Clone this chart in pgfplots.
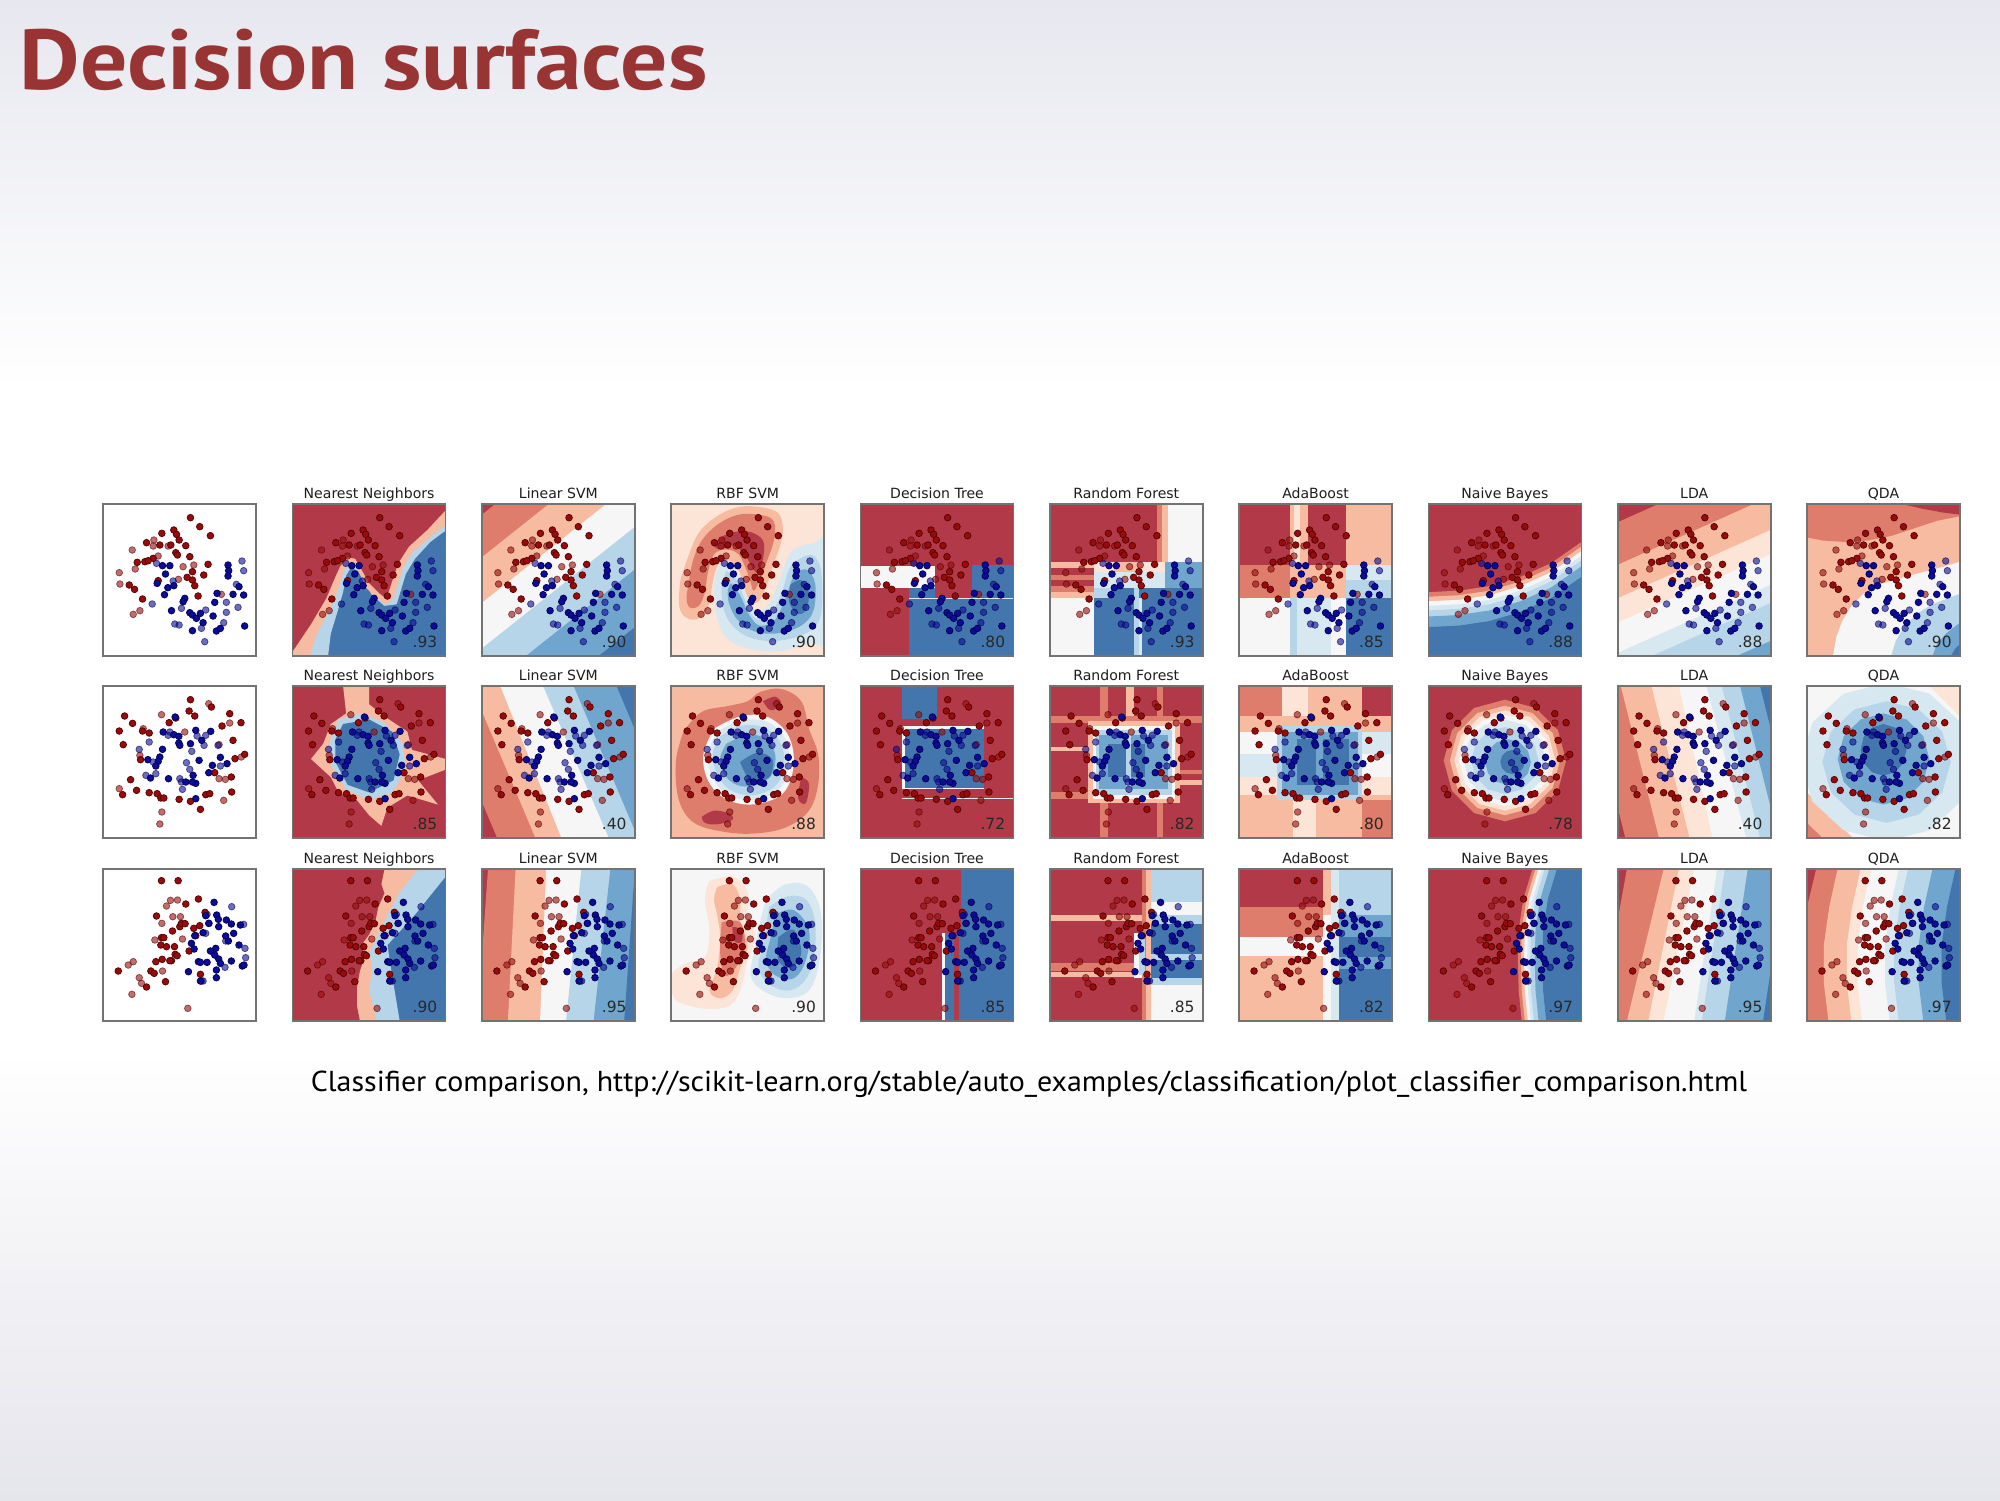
\documentclass[border=0pt]{standalone}
\usepackage{fontspec}
\setmainfont{PT Sans}
\newfontfamily\titlefont{PT Sans}[FakeStretch=1.1]
\newfontfamily\capfont{PT Sans}[FakeStretch=1.04]
\newfontfamily\dejavu{DejaVu Sans}
\usepackage{pgfplots}
\pgfplotsset{compat=1.18}
\usepackage{pgfplotstable}

\definecolor{cR3}{RGB}{178,58,72}
\definecolor{cR2}{RGB}{222,125,108}
\definecolor{cR1}{RGB}{246,187,160}
\definecolor{cR0}{RGB}{252,228,215}
\definecolor{cW}{RGB}{246,246,246}
\definecolor{cB0}{RGB}{216,232,241}
\definecolor{cB1}{RGB}{182,213,232}
\definecolor{cB2}{RGB}{112,166,206}
\definecolor{cB3}{RGB}{66,118,172}
\definecolor{ptR}{RGB}{150,12,12}
\definecolor{ptRe}{RGB}{85,0,0}
\definecolor{ptB}{RGB}{12,12,150}
\definecolor{ptBe}{RGB}{0,0,85}
\definecolor{framegray}{RGB}{115,115,115}
\definecolor{ttlgray}{RGB}{30,30,30}
\definecolor{scgray}{RGB}{40,40,40}
\definecolor{titlered}{RGB}{152,52,52}
\definecolor{bgtop}{RGB}{231,232,239}
\definecolor{bgbot}{RGB}{229,229,236}

\pgfdeclareverticalshading{slidebg}{100bp}{color(0bp)=(bgbot); color(25bp)=(bgbot); color(40bp)=(white); color(62bp)=(white); color(75bp)=(bgtop); color(100bp)=(bgtop)}

% ---------- point data (pixel positions inside a 460 x 456 panel) ----------
\pgfplotstableread{
x y
272 53
300 80
332 107
186 100
222 90
230 103
238 120
140 128
180 135
213 135
258 137
228 158
233 165
160 175
270 170
112 187
135 185
145 182
325 193
278 215
312 225
88 255
104 268
175 242
262 232
278 240
285 257
295 288
128 297
}\moonRD
\pgfplotstableread{
x y
162 120
160 138
205 138
97 150
175 168
106 207
282 195
250 200
58 218
60 252
236 238
120 332
100 343
365 283
}\moonRL
\pgfplotstableread{
x y
188 197
210 197
197 222
172 250
222 257
204 263
194 284
255 295
250 305
215 332
270 338
278 345
290 355
310 368
340 348
352 280
345 307
385 195
387 212
385 228
400 283
418 260
432 285
278 392
302 340
350 393
362 385
435 378
}\moonBD
\pgfplotstableread{
x y
170 190
220 243
157 312
245 325
225 372
238 375
318 330
305 385
315 425
380 337
372 368
415 322
427 183
432 212
410 253
380 307
}\moonBL
\pgfplotstableread{
x y
272 53
335 75
268 87
285 102
74 102
98 124
208 122
228 108
390 95
424 122
367 132
58 147
128 147
148 153
400 175
70 188
122 233
406 230
435 217
92 293
110 325
68 338
148 332
172 335
183 348
192 348
238 352
272 358
302 382
318 338
330 335
345 272
395 285
396 330
}\circRD
\pgfplotstableread{
x y
327 65
185 98
130 140
255 150
390 123
358 188
120 220
425 225
58 320
358 290
377 292
372 355
186 390
180 426
}\circRL
\pgfplotstableread{
x y
190 150
222 158
237 163
237 183
240 190
288 145
272 185
306 175
333 148
188 202
180 225
175 238
144 233
168 252
152 288
206 290
298 235
362 226
338 250
382 245
327 272
288 304
278 300
258 300
280 280
288 350
226 105
}\circBD
\pgfplotstableread{
x y
210 150
205 160
148 180
118 202
160 240
168 275
138 280
260 242
270 262
276 208
292 162
318 160
313 190
362 252
240 290
245 300
248 322
355 190
}\circBL
\pgfplotstableread{
x y
185 47
235 47
296 102
258 117
170 153
218 198
240 185
245 175
256 176
282 190
300 182
288 212
185 218
192 218
183 240
200 245
224 245
226 268
232 272
215 287
210 287
168 290
187 283
153 318
163 325
55 318
140 366
197 350
268 258
316 142
302 328
}\linRD
\pgfplotstableread{
x y
212 106
233 105
200 123
219 155
242 155
186 175
165 225
248 222
100 290
85 300
188 318
118 338
125 355
96 388
264 430
}\linRL
\pgfplotstableread{
x y
343 112
351 150
380 165
395 177
357 185
356 163
422 180
402 205
378 213
386 228
327 175
318 152
285 212
310 203
275 235
283 252
348 250
332 258
345 270
357 282
362 295
350 315
350 338
296 290
302 292
322 292
395 288
428 303
433 300
418 240
266 320
302 348
}\linBD
\pgfplotstableread{
x y
396 125
322 148
432 178
328 175
318 205
436 250
438 278
376 307
305 348
310 348
378 228
}\linBL

% ---------- helpers ----------
\newcommand\rect[5]{\addplot[fill=#1,draw=none] coordinates {(#2,#4) (#3,#4) (#3,#5) (#2,#5)} -- cycle;}
\newcommand\region[2]{\addplot[fill=#1,draw=none] coordinates {#2} -- cycle;}
\newcommand\sregion[2]{\addplot[fill=#1,draw=none,smooth,tension=0.6] coordinates {#2} -- cycle;}
\newcommand\dband[3]{\addplot[fill=#1,draw=none] coordinates {(0,#2) (1,#3) (1,3) (0,3)} -- cycle;}
\newcommand\rband[3]{\addplot[fill=#1,draw=none] coordinates {(#2,0) (#3,1) (3,1) (3,0)} -- cycle;}
\newcommand\cb[7]{\addplot[fill=#1,draw=none] coordinates {(0,#2) (0.2,#3) (0.4,#4) (0.6,#5) (0.8,#6) (1,#7) (1,3) (0,3)} -- cycle;}
\newcommand\vc[7]{\addplot[fill=#1,draw=none] coordinates {(#2,0) (#3,0.2) (#4,0.4) (#5,0.6) (#6,0.8) (#7,1) (3,1) (3,0)} -- cycle;}
\newcommand\vq[6]{\addplot[fill=#1,draw=none] coordinates {(#2,0) (#3,0.25) (#4,0.5) (#5,0.75) (#6,1) (3,1) (3,0)} -- cycle;}
\pgfplotsset{ptstyle/.style={only marks, mark=*, mark size=0.95pt}}
\newcommand\pts[4]{%
\addplot[ptstyle, mark options={fill=ptR, draw=ptRe, line width=0.2pt, opacity=0.6}] table[x expr=(\thisrow{x}-10)/460, y expr=(\thisrow{y}-12)/456] {#2};
\addplot[ptstyle, mark options={fill=ptB, draw=ptBe, line width=0.2pt, opacity=0.6}] table[x expr=(\thisrow{x}-10)/460, y expr=(\thisrow{y}-12)/456] {#4};
\addplot[ptstyle, mark options={fill=ptR, draw=ptRe, line width=0.2pt}] table[x expr=(\thisrow{x}-10)/460, y expr=(\thisrow{y}-12)/456] {#1};
\addplot[ptstyle, mark options={fill=ptB, draw=ptBe, line width=0.2pt}] table[x expr=(\thisrow{x}-10)/460, y expr=(\thisrow{y}-12)/456] {#3};
}
\newcommand\moons{\pts\moonRD\moonRL\moonBD\moonBL}
\newcommand\circs{\pts\circRD\circRL\circBD\circBL}
\newcommand\lins{\pts\linRD\linRL\linBD\linBL}
\newcommand\score[1]{\node[anchor=base east, inner sep=0pt, font=\dejavu\fontsize{4.4}{5}\selectfont, text=scgray] at (axis description cs:0.95,0.055) {#1};}

\pgfplotsset{panel/.style={anchor=north west, width=15.3mm, height=15.2mm, scale only axis,
  xmin=0, xmax=1, ymin=0, ymax=1, y dir=reverse, xtick=\empty, ytick=\empty, axis on top,
  axis line style={draw=framegray, line width=0.5pt},
  title style={font=\dejavu\fontsize{4}{5}\selectfont, text=ttlgray, at={(0.5,1)}, anchor=base, yshift=-1.57mm, inner sep=0pt}}}

\begin{document}
\begin{tikzpicture}
\fill[shading=slidebg] (0,0) rectangle (200mm,-150mm);
\node[anchor=base west, inner sep=0pt, font=\titlefont\fontsize{24.2}{29}\selectfont\bfseries, text=titlered] at (1.9mm,-8.9mm) {Decision surfaces};

%================ ROW 1 (moons) ================
\begin{axis}[panel,at={(10.33mm,-50.4mm)}]
\rect{white}{0}{1}{0}{1}
\moons
\end{axis}

\begin{axis}[panel,at={(29.26mm,-50.4mm)},title={Nearest Neighbors}]
\rect{cB3}{0}{1}{0}{1}
\region{cB1}{(-0.1,-0.1) (1.1,-0.1) (1.1,0.1) (0.9,0.25) (0.8,0.36) (0.74,0.46) (0.68,0.66) (0.6,0.67) (0.52,0.6) (0.47,0.52) (0.43,0.44) (0.38,0.42) (0.35,0.47) (0.33,0.58) (0.29,0.72) (0.25,0.85) (0.22,1.1) (-0.1,1.1)}
\region{cR1}{(-0.1,-0.1) (1.1,-0.1) (1.1,0.06) (0.92,0.2) (0.78,0.32) (0.72,0.42) (0.66,0.62) (0.61,0.66) (0.55,0.62) (0.48,0.55) (0.44,0.46) (0.4,0.39) (0.36,0.39) (0.33,0.45) (0.3,0.55) (0.25,0.68) (0.16,0.85) (0.08,1.1) (-0.1,1.1)}
\region{cR3}{(-0.1,-0.1) (1.1,-0.1) (1.1,0.02) (1,0.04) (0.88,0.17) (0.76,0.28) (0.69,0.39) (0.63,0.57) (0.61,0.62) (0.57,0.59) (0.5,0.52) (0.45,0.43) (0.41,0.36) (0.36,0.35) (0.31,0.41) (0.27,0.5) (0.22,0.62) (0.12,0.79) (0,0.97) (-0.02,1.1) (-0.1,1.1)}
\moons
\score{.93}
\end{axis}

\begin{axis}[panel,at={(48.19mm,-50.4mm)},title={Linear SVM}]
\rect{cR3}{0}{1}{0}{1}
\dband{cR2}{0.07}{-0.73}
\dband{cR1}{0.35}{-0.45}
\dband{cW}{0.65}{-0.15}
\dband{cB1}{0.95}{0.15}
\dband{cB2}{1.23}{0.43}
\dband{cB3}{1.61}{0.81}
\moons
\score{.90}
\end{axis}

\begin{axis}[panel,at={(67.12mm,-50.4mm)},title={RBF SVM}]
\rect{cR0}{0}{1}{0}{1}
\sregion{cR1}{(0.06,0.5) (0.11,0.35) (0.18,0.19) (0.3,0.08) (0.44,0.02) (0.58,0.02) (0.7,0.06) (0.73,0.17) (0.71,0.28) (0.67,0.39) (0.63,0.52) (0.58,0.63) (0.53,0.65) (0.49,0.59) (0.46,0.48) (0.41,0.39) (0.34,0.37) (0.3,0.41) (0.27,0.52) (0.25,0.65) (0.2,0.74) (0.13,0.76) (0.07,0.72) (0.05,0.64) (0.06,0.5)}
\sregion{cR2}{(0.11,0.55) (0.14,0.38) (0.2,0.24) (0.31,0.13) (0.44,0.07) (0.57,0.07) (0.66,0.1) (0.68,0.18) (0.66,0.28) (0.62,0.39) (0.58,0.5) (0.54,0.57) (0.52,0.52) (0.49,0.43) (0.44,0.33) (0.36,0.3) (0.28,0.33) (0.24,0.45) (0.22,0.58) (0.18,0.67) (0.12,0.68) (0.1,0.62) (0.11,0.55)}
\sregion{cR3}{(0.27,0.27) (0.36,0.2) (0.5,0.18) (0.6,0.24) (0.6,0.36) (0.57,0.45) (0.53,0.42) (0.48,0.33) (0.4,0.27) (0.32,0.3) (0.27,0.27)}
\sregion{cB0}{(0.33,0.38) (0.4,0.4) (0.45,0.5) (0.5,0.62) (0.55,0.7) (0.63,0.67) (0.7,0.52) (0.74,0.4) (0.8,0.3) (0.92,0.26) (1.05,0.26) (1.05,0.88) (0.9,0.92) (0.7,0.97) (0.5,0.95) (0.36,0.88) (0.3,0.75) (0.28,0.6) (0.29,0.47) (0.33,0.38)}
\sregion{cB1}{(0.36,0.44) (0.42,0.49) (0.47,0.6) (0.52,0.72) (0.58,0.76) (0.66,0.71) (0.73,0.56) (0.77,0.43) (0.84,0.36) (0.93,0.34) (0.98,0.45) (0.98,0.72) (0.9,0.84) (0.7,0.9) (0.52,0.88) (0.4,0.8) (0.34,0.68) (0.33,0.54) (0.36,0.44)}
\sregion{cB2}{(0.39,0.52) (0.45,0.6) (0.51,0.73) (0.58,0.8) (0.68,0.76) (0.75,0.61) (0.8,0.48) (0.88,0.43) (0.94,0.52) (0.93,0.7) (0.85,0.8) (0.7,0.85) (0.55,0.84) (0.44,0.77) (0.38,0.66) (0.37,0.57) (0.39,0.52)}
\sregion{cB3}{(0.78,0.53) (0.85,0.5) (0.9,0.58) (0.88,0.7) (0.82,0.72) (0.77,0.64) (0.78,0.53)}
\moons
\score{.90}
\end{axis}

\begin{axis}[panel,at={(86.05mm,-50.4mm)},title={Decision Tree}]
\rect{cR3}{0}{1}{0}{1}
\rect{cB3}{0.32}{1}{0.62}{1}
\rect{cB3}{0.73}{1}{0.4}{0.62}
\rect{cW}{0}{0.49}{0.41}{0.55}
\rect{cB3}{0.32}{0.49}{0.55}{0.62}
\rect{cB0}{0.32}{1}{0.615}{0.625}
\moons
\score{.80}
\end{axis}

\begin{axis}[panel,at={(104.98mm,-50.4mm)},title={Random Forest}]
\rect{cW}{0}{1}{0}{1}
\rect{cR3}{0}{0.7}{0}{0.38}
\rect{cR2}{0.7}{0.73}{0}{0.38}
\rect{cR1}{0.73}{0.77}{0}{0.38}
\rect{cR1}{0}{0.29}{0.38}{0.62}
\rect{cR3}{0}{0.29}{0.42}{0.47}
\rect{cR2}{0}{0.29}{0.47}{0.5}
\rect{cR3}{0}{0.29}{0.5}{0.54}
\rect{cR2}{0}{0.29}{0.54}{0.58}
\rect{cR0}{0.29}{0.75}{0.38}{0.45}
\rect{cR1}{0.42}{0.6}{0.38}{0.47}
\rect{cB0}{0.29}{0.75}{0.45}{0.55}
\rect{cB2}{0.75}{1}{0.38}{0.55}
\rect{cB3}{0.29}{1}{0.55}{1}
\rect{cB1}{0.29}{0.4}{0.55}{0.62}
\rect{cB1}{0.55}{0.58}{0.55}{1}
\rect{cB0}{0.58}{0.6}{0.62}{1}
\moons
\score{.93}
\end{axis}

\begin{axis}[panel,at={(123.91mm,-50.4mm)},title={AdaBoost}]
\rect{cW}{0}{1}{0}{1}
\rect{cR3}{0}{0.33}{0}{0.4}
\rect{cR1}{0.33}{0.36}{0}{0.4}
\rect{cR0}{0.36}{0.4}{0}{0.4}
\rect{cR1}{0.4}{0.45}{0}{0.4}
\rect{cR3}{0.45}{0.7}{0}{0.4}
\rect{cR1}{0.7}{1}{0}{0.4}
\rect{cR2}{0}{0.33}{0.4}{0.62}
\rect{cR1}{0.33}{0.7}{0.4}{0.62}
\rect{cB0}{0.7}{1}{0.4}{0.5}
\rect{cB1}{0.7}{1}{0.5}{0.62}
\rect{cW}{0}{0.33}{0.62}{1}
\rect{cB1}{0.33}{0.38}{0.62}{1}
\rect{cB0}{0.38}{0.6}{0.62}{1}
\rect{cW}{0.6}{0.7}{0.62}{1}
\rect{cB3}{0.7}{1}{0.62}{1}
\moons
\score{.85}
\end{axis}

\begin{axis}[panel,at={(142.84mm,-50.4mm)},title={Naive Bayes}]
\rect{cR3}{0}{1}{0}{1}
\cb{cR2}{0.58}{0.57}{0.54}{0.48}{0.39}{0.25}
\cb{cR1}{0.61}{0.60}{0.57}{0.51}{0.42}{0.28}
\cb{cW}{0.64}{0.63}{0.60}{0.54}{0.45}{0.31}
\cb{cB0}{0.67}{0.66}{0.63}{0.57}{0.48}{0.34}
\cb{cB1}{0.70}{0.69}{0.66}{0.60}{0.51}{0.37}
\cb{cB2}{0.74}{0.73}{0.70}{0.64}{0.55}{0.41}
\cb{cB3}{0.81}{0.80}{0.77}{0.71}{0.62}{0.48}
\moons
\score{.88}
\end{axis}

\begin{axis}[panel,at={(161.77mm,-50.4mm)},title={LDA}]
\rect{cR3}{0}{1}{0}{1}
\dband{cR2}{0.12}{-0.33}
\dband{cR1}{0.40}{-0.05}
\dband{cR0}{0.62}{0.17}
\dband{cW}{0.78}{0.33}
\dband{cB0}{0.98}{0.53}
\dband{cB1}{1.1}{0.65}
\dband{cB2}{1.35}{0.9}
\dband{cB3}{1.5}{1.05}
\moons
\score{.88}
\end{axis}

\begin{axis}[panel,at={(180.70mm,-50.4mm)},title={QDA}]
\rect{cR1}{0}{1}{0}{1}
\region{cR2}{(0,0) (1,0) (1,0.08) (0.85,0.11) (0.7,0.16) (0.55,0.21) (0.4,0.24) (0.25,0.25) (0.1,0.24) (0,0.22)}
\region{cR3}{(0.62,0) (1,0) (1,0.07) (0.88,0.055) (0.75,0.03)}
\region{cW}{(0.17,1) (0.19,0.88) (0.23,0.77) (0.29,0.67) (0.37,0.59) (0.47,0.53) (0.6,0.49) (0.75,0.45) (0.9,0.41) (1,0.38) (1,1)}
\region{cB1}{(0.55,1) (0.58,0.9) (0.64,0.8) (0.72,0.72) (0.82,0.66) (0.92,0.62) (1,0.59) (1,1)}
\region{cB2}{(0.82,1) (0.85,0.92) (0.91,0.85) (1,0.78) (1,1)}
\region{cB3}{(0.94,1) (0.97,0.95) (1,0.92) (1,1)}
\moons
\score{.90}
\end{axis}

%================ ROW 2 (circles) ================
\begin{axis}[panel,at={(10.33mm,-68.6mm)}]
\rect{white}{0}{1}{0}{1}
\circs
\end{axis}

\begin{axis}[panel,at={(29.26mm,-68.6mm)},title={Nearest Neighbors}]
\rect{cR3}{0}{1}{0}{1}
\region{cR1}{(0.33,0) (0.5,0) (0.5,0.12) (0.6,0.2) (0.75,0.3) (0.78,0.42) (1,0.48) (1,0.55) (0.82,0.62) (0.95,0.78) (0.75,0.72) (0.62,0.8) (0.58,0.92) (0.5,0.85) (0.42,0.75) (0.3,0.7) (0.25,0.6) (0.12,0.48) (0.2,0.38) (0.25,0.25) (0.35,0.18)}
\region{cB1}{(0.3,0.22) (0.45,0.18) (0.6,0.24) (0.72,0.38) (0.74,0.55) (0.65,0.7) (0.5,0.75) (0.35,0.68) (0.25,0.52) (0.24,0.38)}
\region{cB3}{(0.33,0.25) (0.5,0.22) (0.65,0.3) (0.7,0.45) (0.66,0.62) (0.5,0.7) (0.36,0.65) (0.28,0.5) (0.28,0.35)}
\circs
\score{.85}
\end{axis}

\begin{axis}[panel,at={(48.19mm,-68.6mm)},title={Linear SVM}]
\rect{cR3}{0}{1}{0}{1}
\rband{cR2}{-0.32}{0.1}
\rband{cR1}{-0.07}{0.35}
\rband{cW}{0.12}{0.52}
\rband{cB1}{0.4}{0.83}
\rband{cB2}{0.6}{1.02}
\rband{cB3}{0.88}{1.3}
\circs
\score{.40}
\end{axis}

\begin{axis}[panel,at={(67.12mm,-68.6mm)},title={RBF SVM}]
\rect{cR1}{0}{1}{0}{1}
\sregion{cR2}{(0.08,0.3) (0.2,0.17) (0.38,0.13) (0.5,0.1) (0.58,0.04) (0.72,0.02) (0.85,0.1) (0.9,0.28) (0.96,0.45) (0.96,0.65) (0.9,0.82) (0.75,0.93) (0.55,0.97) (0.35,0.96) (0.15,0.9) (0.05,0.75) (0.03,0.5) (0.08,0.3)}
\sregion{cR3}{(0.2,0.86) (0.28,0.82) (0.38,0.84) (0.4,0.88) (0.3,0.91) (0.22,0.9) (0.2,0.86)}
\sregion{cR3}{(0.85,0.6) (0.9,0.64) (0.88,0.77) (0.83,0.74) (0.85,0.6)}
\sregion{cR3}{(0.6,0.1) (0.68,0.07) (0.72,0.12) (0.65,0.16) (0.6,0.1)}
\sregion{cW}{(0.28,0.28) (0.45,0.2) (0.62,0.2) (0.75,0.3) (0.8,0.45) (0.78,0.62) (0.7,0.73) (0.52,0.78) (0.35,0.74) (0.24,0.62) (0.21,0.45) (0.28,0.28)}
\sregion{cB0}{(0.3,0.3) (0.45,0.23) (0.61,0.23) (0.73,0.32) (0.77,0.45) (0.75,0.6) (0.68,0.7) (0.52,0.75) (0.36,0.71) (0.27,0.6) (0.24,0.45) (0.3,0.3)}
\sregion{cB1}{(0.32,0.33) (0.46,0.26) (0.6,0.27) (0.7,0.35) (0.74,0.47) (0.72,0.6) (0.65,0.68) (0.52,0.72) (0.38,0.68) (0.3,0.58) (0.27,0.45) (0.32,0.33)}
\sregion{cB2}{(0.36,0.38) (0.5,0.32) (0.62,0.35) (0.68,0.45) (0.66,0.58) (0.58,0.64) (0.46,0.66) (0.36,0.6) (0.32,0.48) (0.36,0.38)}
\sregion{cB3}{(0.45,0.5) (0.56,0.44) (0.66,0.48) (0.64,0.6) (0.52,0.62) (0.45,0.5)}
\circs
\score{.88}
\end{axis}

\begin{axis}[panel,at={(86.05mm,-68.6mm)},title={Decision Tree}]
\rect{cR3}{0}{1}{0}{1}
\rect{cB3}{0.27}{0.5}{0}{0.22}
\rect{cW}{0.27}{0.81}{0.265}{0.675}
\rect{cB3}{0.29}{0.81}{0.28}{0.67}
\rect{cB0}{0.27}{1}{0.735}{0.745}
\circs
\score{.72}
\end{axis}

\begin{axis}[panel,at={(104.98mm,-68.6mm)},title={Random Forest}]
\rect{cR3}{0}{1}{0}{1}
\rect{cR2}{0.33}{0.38}{0}{1}
\rect{cR1}{0.5}{0.55}{0}{0.25}
\rect{cR2}{0.7}{0.74}{0}{1}
\rect{cR2}{0}{1}{0.2}{0.24}
\rect{cR1}{0}{0.3}{0.4}{0.43}
\rect{cR2}{0.8}{1}{0.55}{0.58}
\rect{cR1}{0.8}{1}{0.62}{0.65}
\rect{cR2}{0}{0.3}{0.7}{0.74}
\rect{cR1}{0.25}{0.85}{0.23}{0.77}
\rect{cW}{0.28}{0.82}{0.26}{0.74}
\rect{cB1}{0.3}{0.8}{0.29}{0.72}
\rect{cB2}{0.32}{0.77}{0.32}{0.68}
\rect{cB3}{0.38}{0.62}{0.38}{0.6}
\rect{cB1}{0.5}{0.53}{0.32}{0.68}
\circs
\score{.82}
\end{axis}

\begin{axis}[panel,at={(123.91mm,-68.6mm)},title={AdaBoost}]
\rect{cR1}{0}{1}{0}{1}
\rect{cR2}{0}{0.28}{0}{0.2}
\rect{cR0}{0.28}{0.45}{0}{0.2}
\rect{cR1}{0.45}{0.78}{0}{0.2}
\rect{cR3}{0.8}{1}{0}{0.2}
\rect{cW}{0}{0.25}{0.3}{0.45}
\rect{cB0}{0}{0.25}{0.45}{0.6}
\rect{cR0}{0}{0.25}{0.6}{0.72}
\rect{cB0}{0.8}{1}{0.3}{0.45}
\rect{cW}{0.8}{1}{0.45}{0.6}
\rect{cR0}{0.8}{1}{0.6}{0.72}
\rect{cB1}{0.25}{0.8}{0.26}{0.75}
\rect{cB2}{0.28}{0.78}{0.3}{0.72}
\rect{cB3}{0.38}{0.72}{0.35}{0.65}
\rect{cB2}{0.5}{0.55}{0.35}{0.65}
\rect{cR0}{0.35}{0.5}{0.75}{1}
\rect{cR2}{0.8}{1}{0.75}{1}
\circs
\score{.80}
\end{axis}

\begin{axis}[panel,at={(142.84mm,-68.6mm)},title={Naive Bayes}]
\rect{cR3}{0}{1}{0}{1}
\region{cR2}{(0.9,0.49) (0.846,0.69) (0.7,0.836) (0.5,0.89) (0.3,0.836) (0.154,0.69) (0.1,0.49) (0.154,0.29) (0.3,0.144) (0.5,0.09) (0.7,0.144) (0.846,0.29)}
\region{cR1}{(0.86,0.49) (0.812,0.67) (0.68,0.802) (0.5,0.85) (0.32,0.802) (0.188,0.67) (0.14,0.49) (0.188,0.31) (0.32,0.178) (0.5,0.13) (0.68,0.178) (0.812,0.31)}
\region{cR0}{(0.83,0.49) (0.786,0.655) (0.665,0.776) (0.5,0.82) (0.335,0.776) (0.214,0.655) (0.17,0.49) (0.214,0.325) (0.335,0.204) (0.5,0.16) (0.665,0.204) (0.786,0.325)}
\region{cW}{(0.8,0.49) (0.76,0.64) (0.65,0.75) (0.5,0.79) (0.35,0.75) (0.24,0.64) (0.2,0.49) (0.24,0.34) (0.35,0.23) (0.5,0.19) (0.65,0.23) (0.76,0.34)}
\region{cB0}{(0.77,0.49) (0.734,0.625) (0.635,0.724) (0.5,0.76) (0.365,0.724) (0.266,0.625) (0.23,0.49) (0.266,0.355) (0.365,0.256) (0.5,0.22) (0.635,0.256) (0.734,0.355)}
\region{cB1}{(0.72,0.49) (0.691,0.6) (0.61,0.681) (0.5,0.71) (0.39,0.681) (0.309,0.6) (0.28,0.49) (0.309,0.38) (0.39,0.299) (0.5,0.27) (0.61,0.299) (0.691,0.38)}
\region{cB2}{(0.67,0.5) (0.65,0.575) (0.595,0.63) (0.52,0.65) (0.445,0.63) (0.39,0.575) (0.37,0.5) (0.39,0.425) (0.445,0.37) (0.52,0.35) (0.595,0.37) (0.65,0.425)}
\region{cB3}{(0.63,0.5) (0.619,0.54) (0.59,0.569) (0.55,0.58) (0.51,0.569) (0.481,0.54) (0.47,0.5) (0.481,0.46) (0.51,0.431) (0.55,0.42) (0.59,0.431) (0.619,0.46)}
\circs
\score{.78}
\end{axis}

\begin{axis}[panel,at={(161.77mm,-68.6mm)},title={LDA}]
\rect{cR3}{0}{1}{0}{1}
\rband{cR2}{-0.2}{0.05}
\rband{cR1}{0.02}{0.27}
\rband{cR0}{0.22}{0.47}
\rband{cW}{0.4}{0.62}
\rband{cB0}{0.58}{0.84}
\rband{cB1}{0.68}{0.93}
\rband{cB2}{0.8}{1.05}
\rband{cB3}{0.93}{1.18}
\circs
\score{.40}
\end{axis}

\begin{axis}[panel,at={(180.70mm,-68.6mm)},title={QDA}]
\rect{cW}{0}{1}{0}{1}
\region{cR1}{(0,0.7) (0.3,1) (0,1)}
\region{cR2}{(0,0.9) (0.1,1) (0,1)}
\region{cR0}{(0.8,0) (1,0) (1,0.2)}
\region{cB0}{(1.08,0.5) (1.005,0.76) (0.8,0.95) (0.52,1.02) (0.24,0.95) (0.035,0.76) (-0.04,0.5) (0.035,0.24) (0.24,0.05) (0.52,-0.02) (0.8,0.05) (1.005,0.24)}
\region{cB1}{(0.94,0.5) (0.884,0.7) (0.73,0.846) (0.52,0.9) (0.31,0.846) (0.156,0.7) (0.1,0.5) (0.156,0.3) (0.31,0.154) (0.52,0.1) (0.73,0.154) (0.884,0.3)}
\region{cB2}{(0.8,0.48) (0.76,0.63) (0.65,0.74) (0.5,0.78) (0.35,0.74) (0.24,0.63) (0.2,0.48) (0.24,0.33) (0.35,0.22) (0.5,0.18) (0.65,0.22) (0.76,0.33)}
\region{cB3}{(0.65,0.42) (0.63,0.505) (0.575,0.567) (0.5,0.59) (0.425,0.567) (0.37,0.505) (0.35,0.42) (0.37,0.335) (0.425,0.273) (0.5,0.25) (0.575,0.273) (0.63,0.335)}
\circs
\score{.82}
\end{axis}

%================ ROW 3 (linearly separable) ================
\begin{axis}[panel,at={(10.33mm,-86.9mm)}]
\rect{white}{0}{1}{0}{1}
\lins
\end{axis}

\begin{axis}[panel,at={(29.26mm,-86.9mm)},title={Nearest Neighbors}]
\rect{cB3}{0}{1}{0}{1}
\region{cB1}{(0,0) (1,0) (1,0.05) (0.8,0.3) (0.62,0.5) (0.65,0.7) (0.7,1) (0,1)}
\region{cR1}{(0,0) (0.82,0) (0.7,0.15) (0.62,0.3) (0.55,0.45) (0.5,0.55) (0.52,0.65) (0.5,0.8) (0.55,1) (0,1)}
\region{cR3}{(0,0) (0.6,0) (0.58,0.1) (0.6,0.16) (0.56,0.25) (0.54,0.35) (0.5,0.43) (0.45,0.5) (0.47,0.58) (0.44,0.67) (0.42,0.78) (0.42,0.9) (0.44,1) (0,1)}
\lins
\score{.90}
\end{axis}

\begin{axis}[panel,at={(48.19mm,-86.9mm)},title={Linear SVM}]
\rect{cR3}{0}{1}{0}{1}
\rband{cR2}{0.04}{-0.03}
\rband{cR1}{0.22}{0.17}
\rband{cW}{0.42}{0.38}
\rband{cB1}{0.65}{0.55}
\rband{cB2}{0.84}{0.73}
\rband{cB3}{1.0}{0.93}
\lins
\score{.95}
\end{axis}

\begin{axis}[panel,at={(67.12mm,-86.9mm)},title={RBF SVM}]
\rect{cW}{0}{1}{0}{1}
\sregion{cR0}{(0.25,0.08) (0.4,0.05) (0.5,0.15) (0.5,0.3) (0.55,0.45) (0.5,0.6) (0.45,0.8) (0.38,0.9) (0.25,0.92) (0.12,0.9) (0.02,0.85) (0.0,0.7) (0.1,0.62) (0.22,0.58) (0.25,0.4) (0.22,0.2) (0.25,0.08)}
\sregion{cR1}{(0.3,0.12) (0.4,0.1) (0.45,0.2) (0.45,0.35) (0.5,0.5) (0.45,0.65) (0.4,0.8) (0.32,0.85) (0.25,0.8) (0.3,0.65) (0.32,0.45) (0.3,0.3) (0.28,0.2) (0.3,0.12)}
\sregion{cR2}{(0.33,0.35) (0.45,0.35) (0.48,0.5) (0.42,0.65) (0.35,0.7) (0.32,0.55) (0.33,0.35)}
\sregion{cR3}{(0.4,0.38) (0.46,0.4) (0.46,0.48) (0.41,0.47) (0.4,0.38)}
\sregion{cB0}{(0.62,0.2) (0.75,0.1) (0.9,0.12) (0.98,0.3) (0.97,0.6) (0.9,0.8) (0.75,0.85) (0.6,0.8) (0.52,0.7) (0.55,0.5) (0.58,0.35) (0.62,0.2)}
\sregion{cB1}{(0.64,0.25) (0.76,0.18) (0.88,0.2) (0.94,0.35) (0.93,0.6) (0.86,0.75) (0.75,0.8) (0.63,0.75) (0.57,0.65) (0.6,0.5) (0.62,0.38) (0.64,0.25)}
\sregion{cB2}{(0.68,0.3) (0.8,0.27) (0.9,0.4) (0.88,0.6) (0.8,0.72) (0.68,0.7) (0.62,0.6) (0.65,0.45) (0.68,0.3)}
\sregion{cB3}{(0.7,0.45) (0.8,0.4) (0.85,0.55) (0.78,0.65) (0.7,0.6) (0.7,0.45)}
\lins
\score{.90}
\end{axis}

\begin{axis}[panel,at={(86.05mm,-86.9mm)},title={Decision Tree}]
\rect{cR3}{0}{1}{0}{1}
\rect{cB3}{0.66}{1}{0}{1}
\rect{cB3}{0.54}{0.66}{0.42}{1}
\rect{cW}{0.53}{0.55}{0.42}{1}
\rect{cR3}{0.61}{0.645}{0.45}{1}
\lins
\score{.85}
\end{axis}

\begin{axis}[panel,at={(104.98mm,-86.9mm)},title={Random Forest}]
\rect{cR3}{0}{1}{0}{1}
\rect{cR1}{0}{0.6}{0.3}{0.34}
\rect{cR2}{0}{0.6}{0.62}{0.67}
\rect{cR1}{0}{0.55}{0.68}{0.71}
\rect{cR2}{0.6}{0.63}{0}{1}
\rect{cR1}{0.63}{0.66}{0}{1}
\rect{cB1}{0.66}{1}{0}{0.22}
\rect{cW}{0.66}{1}{0.22}{0.3}
\rect{cB1}{0.66}{1}{0.3}{0.36}
\rect{cB3}{0.66}{1}{0.36}{0.56}
\rect{cB1}{0.66}{1}{0.56}{0.6}
\rect{cB3}{0.66}{1}{0.6}{0.72}
\rect{cB1}{0.66}{1}{0.72}{0.76}
\rect{cW}{0.66}{1}{0.76}{1}
\rect{cW}{0.55}{0.6}{0.42}{0.72}
\rect{cB1}{0.58}{0.62}{0.45}{0.7}
\lins
\score{.85}
\end{axis}

\begin{axis}[panel,at={(123.91mm,-86.9mm)},title={AdaBoost}]
\rect{cR1}{0}{1}{0}{1}
\rect{cR3}{0}{0.55}{0}{0.25}
\rect{cR2}{0}{0.55}{0.25}{0.45}
\rect{cW}{0}{0.55}{0.45}{0.57}
\rect{cR1}{0.55}{0.6}{0}{0.3}
\rect{cW}{0.55}{0.6}{0.3}{1}
\rect{cB0}{0.6}{0.65}{0}{1}
\rect{cB1}{0.65}{1}{0}{0.3}
\rect{cB2}{0.65}{1}{0.3}{0.45}
\rect{cB3}{0.65}{1}{0.45}{0.58}
\rect{cB2}{0.65}{1}{0.58}{0.66}
\rect{cB3}{0.65}{1}{0.66}{1}
\lins
\score{.82}
\end{axis}

\begin{axis}[panel,at={(142.84mm,-86.9mm)},title={Naive Bayes}]
\rect{cR3}{0}{1}{0}{1}
\vc{cR2}{0.68}{0.62}{0.59}{0.585}{0.59}{0.61}
\vc{cR1}{0.70}{0.64}{0.61}{0.605}{0.61}{0.63}
\vc{cW}{0.72}{0.66}{0.63}{0.625}{0.63}{0.65}
\vc{cB0}{0.74}{0.68}{0.65}{0.645}{0.65}{0.67}
\vc{cB1}{0.76}{0.70}{0.67}{0.665}{0.67}{0.69}
\vc{cB2}{0.79}{0.73}{0.70}{0.695}{0.70}{0.72}
\vc{cB3}{0.84}{0.78}{0.75}{0.745}{0.75}{0.77}
\lins
\score{.97}
\end{axis}

\begin{axis}[panel,at={(161.77mm,-86.9mm)},title={LDA}]
\rect{cR3}{0}{1}{0}{1}
\rband{cR2}{0.06}{-0.12}
\rband{cR1}{0.3}{0.06}
\rband{cR0}{0.4}{0.2}
\rband{cW}{0.5}{0.3}
\rband{cB0}{0.65}{0.5}
\rband{cB1}{0.7}{0.55}
\rband{cB2}{0.85}{0.7}
\rband{cB3}{1.1}{0.95}
\lins
\score{.95}
\end{axis}

\begin{axis}[panel,at={(180.70mm,-86.9mm)},title={QDA}]
\rect{cR3}{0}{1}{0}{1}
\vq{cR2}{0.06}{0.0}{-0.03}{-0.03}{0}
\vq{cR1}{0.2}{0.145}{0.11}{0.11}{0.14}
\vq{cR0}{0.35}{0.295}{0.26}{0.26}{0.29}
\vq{cW}{0.42}{0.365}{0.33}{0.33}{0.36}
\vq{cB0}{0.6}{0.545}{0.51}{0.51}{0.54}
\vq{cB1}{0.66}{0.605}{0.57}{0.57}{0.6}
\vq{cB2}{0.82}{0.765}{0.73}{0.73}{0.76}
\vq{cB3}{0.97}{0.915}{0.88}{0.88}{0.91}
\lins
\score{.97}
\end{axis}

\node[anchor=base, inner sep=0pt, font=\capfont\fontsize{8.2}{10}\selectfont, text=black] at (102.9mm,-109.1mm) {Classifier comparison, http://scikit-learn.org/stable/auto\_examples/classification/plot\_classifier\_comparison.html};
\pgfresetboundingbox
\path (0,0) rectangle (200mm,-150mm);
\end{tikzpicture}
\end{document}
